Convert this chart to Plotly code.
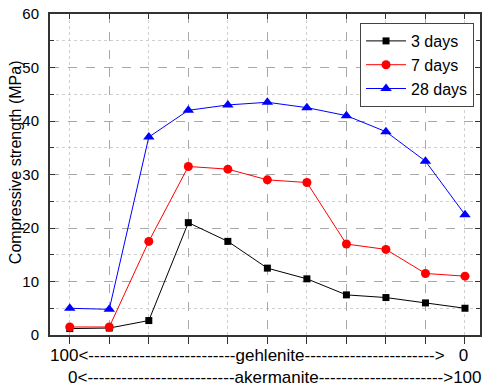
import plotly.graph_objects as go

positions = list(range(11))
days3 = [1.2, 1.3, 2.7, 21.0, 17.5, 12.5, 10.5, 7.5, 7.0, 6.0, 5.0]
days7 = [1.5, 1.5, 17.5, 31.5, 31.0, 29.0, 28.5, 17.0, 16.0, 11.5, 11.0]
days28 = [5.0, 4.8, 37.0, 42.0, 43.0, 43.5, 42.5, 41.0, 38.0, 32.5, 22.5]
series_names = ["3 days", "7 days", "28 days"]
line1 = "100<" + "-" * 26 + "gehlenite" + "-" * 23 + ">   0"
line2 = "0<" + "-" * 26 + "akermanite" + "-" * 22 + ">100"
y_title = "Compressive strength (MPa)"

FONT = "Arial, Liberation Sans, sans-serif"
W, H = 483, 390
L, R, T, B = 50, 1, 14, 55
pw, ph = W - L - R, H - T - B

fig = go.Figure()
styles = [("#000000", "square", 7), ("#ff0000", "circle", 9), ("#0000ff", "triangle-up", 10)]
for name, vals, (col, sym, sz) in zip(series_names, [days3, days7, days28], styles):
    fig.add_trace(go.Scatter(
        x=positions, y=vals, name=name, mode="lines+markers",
        line=dict(color=col, width=1),
        marker=dict(symbol=sym, size=sz, color=col),
    ))
# invisible trace to render the top axis with inward ticks
fig.add_trace(go.Scatter(x=[0], y=[0], xaxis="x2", yaxis="y", mode="markers",
                         marker=dict(opacity=0), showlegend=False, hoverinfo="skip"))

xr = [-0.5, 10.38]
fig.update_layout(
    width=W, height=H, margin=dict(l=L, r=R, t=T, b=B),
    plot_bgcolor="white", paper_bgcolor="white",
    font=dict(family=FONT, size=15, color="#000"),
    showlegend=True,
    legend=dict(x=(476 - L) / pw, y=(H - B - 23) / ph, xanchor="right", yanchor="top",
                bgcolor="white", bordercolor="#444", borderwidth=1,
                font=dict(size=16, family=FONT), tracegroupgap=0,
                itemwidth=40),
    xaxis=dict(range=xr, tick0=1, dtick=2, showticklabels=False,
               ticks="outside", ticklen=7, tickcolor="#333", tickwidth=1,
               showline=True, linecolor="#333", linewidth=2, mirror=True,
               showgrid=True, gridcolor="#a8a8a8", griddash="dash", gridwidth=1,
               zeroline=False,
               minor=dict(tick0=0, dtick=1, showgrid=True, gridcolor="#cfcfcf",
                          griddash="dot", ticks="outside", ticklen=7, tickcolor="#333")),
    xaxis2=dict(range=xr, overlaying="x", side="top", tick0=0, dtick=1,
                showticklabels=False, ticks="inside", ticklen=5, tickcolor="#333",
                showgrid=False, zeroline=False, showline=False),
    yaxis=dict(range=[0, 60], tick0=0, dtick=10, ticks="inside", ticklen=5,
               tickcolor="#333", showline=True, linecolor="#333", linewidth=2,
               mirror="ticks", showgrid=True, gridcolor="#a8a8a8", griddash="dash",
               zeroline=False, ticklabelstandoff=6,
               tickfont=dict(size=15, family=FONT),
               minor=dict(dtick=5, showgrid=True, gridcolor="#cfcfcf", griddash="dot",
                          ticks="inside", ticklen=4, tickcolor="#333")),
)

fig.add_annotation(text=y_title, xref="paper", yref="paper",
                   x=(15 - L) / pw, y=(H - B - 162) / ph, xanchor="center", yanchor="middle",
                   textangle=-90, showarrow=False, font=dict(size=16, family=FONT))
fig.add_annotation(text=line1, xref="paper", yref="paper",
                   x=(48 - L) / pw, y=(H - B - 355) / ph, xanchor="left", yanchor="middle",
                   showarrow=False, font=dict(size=17, family=FONT))
fig.add_annotation(text=line2, xref="paper", yref="paper",
                   x=(66 - L) / pw, y=(H - B - 377) / ph, xanchor="left", yanchor="middle",
                   showarrow=False, font=dict(size=17, family=FONT))

fig.write_html("out.html", config={"displayModeBar": False},
               post_script="document.body.style.margin='0';document.body.style.overflow='hidden';")
